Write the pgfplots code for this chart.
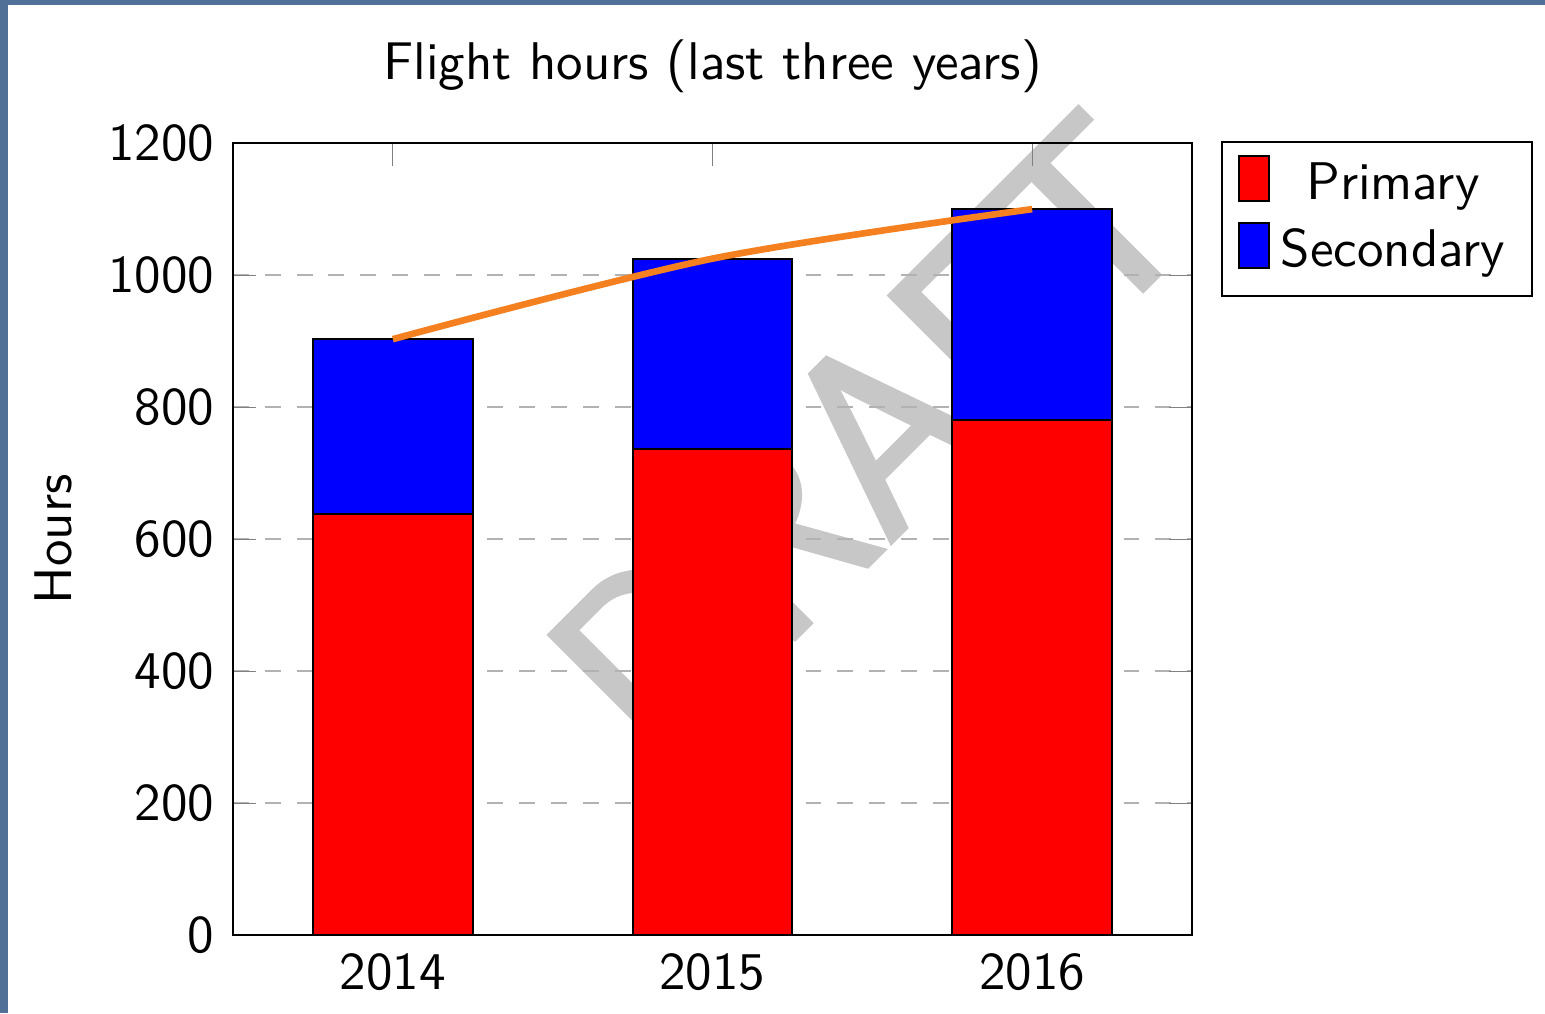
\documentclass[border=0pt]{standalone}
\usepackage{pgfplots}
\pgfplotsset{compat=1.18}
\renewcommand{\familydefault}{\sfdefault}
\definecolor{bgblue}{RGB}{80,112,152}
\definecolor{lineorange}{RGB}{245,128,32}
\pgfplotsset{sqlegend/.style={legend image code/.code={\draw[##1] (0pt,-3pt) rectangle (5.7pt,5.5pt);}}}
\begin{document}
\begin{tikzpicture}
\fill[bgblue] (-43.96pt,-14.72pt) rectangle (247.5pt,176.4pt);
\fill[white] (-42.45pt,-14.72pt) rectangle (247.5pt,175.45pt);
\node[rotate=45, text=black!22, inner sep=0pt, font=\fontsize{47.5}{50}\selectfont\sffamily] at (120.4pt,93.8pt) {\special{pdf:code 2 Tr 1.1 w}DRAFT\special{pdf:code 0 Tr}};
\begin{axis}[
  at={(0,0)}, anchor=south west,
  scale only axis, width=180.9pt, height=149.4pt,
  xmin=2013.5, xmax=2016.5, ymin=0, ymax=1200,
  xtick={2014,2015,2016},
  ytick={0,200,...,1200},
  ymajorgrids, grid style={dashed, gray!60},
  ybar stacked, bar width=0.5,
  title={Flight hours (last three years)},
  title style={yshift=0pt},
  ylabel={Hours},
  legend style={at={(1.03,1.003)}, anchor=north west, cells={anchor=center}, draw=black, font=\sffamily},
  /pgf/number format/assume math mode=true,
  /pgf/number format/1000 sep={},
  tick label style={font=\sffamily},
]
\addplot[fill=red, draw=black, sqlegend] coordinates {(2014,638) (2015,737) (2016,780)};
\addplot[fill=blue, draw=black, sqlegend] coordinates {(2014,265) (2015,288) (2016,320)};
\legend{Primary, Secondary}
\end{axis}
\begin{axis}[
  at={(0,0)}, anchor=south west,
  scale only axis, width=180.9pt, height=149.4pt,
  xmin=2013.5, xmax=2016.5, ymin=0, ymax=1200,
  hide axis,
]
\addplot[lineorange, line width=1.25pt, smooth] coordinates {(2014,903) (2015,1025) (2016,1100)};
\end{axis}
\end{tikzpicture}
\end{document}
